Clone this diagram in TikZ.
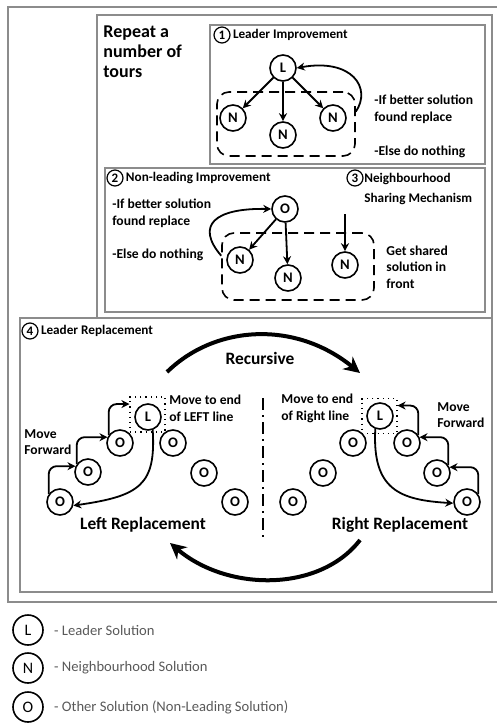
\documentclass[tikz,border=0pt]{standalone}
\usepackage{fontspec}
\setmainfont{Carlito}
\usetikzlibrary{arrows.meta,positioning,calc,shapes}
\tikzstyle{frame}=[draw=black!45, line width=1pt]
\tikzstyle{sol}=[circle,draw,line width=0.8pt,minimum size=13pt,inner sep=0pt,font=\bfseries\fontsize{7.3}{8}\selectfont]
\tikzstyle{legend sol}=[circle,draw,line width=0.8pt,minimum size=15pt,inner sep=0pt,font=\fontsize{8}{9}\selectfont]
\tikzstyle{step num}=[circle,draw,line width=0.6pt,minimum size=8pt,inner sep=0pt,font=\bfseries\fontsize{6.5}{7}\selectfont]
\tikzstyle{heading}=[inner sep=0pt,anchor=west,font=\bfseries\fontsize{6.6}{8}\selectfont]
\tikzstyle{note}=[inner sep=0pt,anchor=west,align=left,font=\bfseries\fontsize{6.8}{8.6}\selectfont]
\tikzstyle{big label}=[inner sep=0pt,font=\bfseries\fontsize{8.7}{10}\selectfont]
\tikzstyle{group}=[draw,dashed,dash pattern=on 5pt off 3pt,line width=0.8pt,rounded corners=6pt,inner sep=0pt]
\tikzstyle{select}=[draw,dotted,line width=0.6pt,minimum size=17.5pt,inner sep=0pt]
\tikzstyle{flow}=[->,line width=0.9pt]
\tikzstyle{big flow}=[-{Stealth[length=8pt,width=8pt]},line width=2pt]
\tikzstyle{legend text}=[inner sep=0pt,anchor=west,text=black!65,font=\fontsize{7.3}{8}\selectfont]

\begin{document}
\begin{tikzpicture}[x=0.5pt,y=-0.5pt,>={Stealth[length=4pt,width=4pt]}]
  \useasboundingbox (0,0) rectangle (497,724);

  % Frames
  \draw[frame] (8,7) rectangle (502,602);
  \draw[frame] (97,15) rectangle (492,318);
  \draw[frame] (210,25) rectangle (485,164);
  \draw[frame] (105,168) rectangle (485,312);
  \draw[frame] (20,318) rectangle (492,592);

  \node[note, font=\bfseries\fontsize{9}{10}\selectfont] (repeatText) at (103,52) {Repeat a\\number of\\tours};

  % Step 1: leader improvement

  \node[step num] (numOne) at (222,35) {1};
  \node[heading, right = 1pt of numOne] {Leader Improvement};

  \node[sol] (leaderOne) at (283,68) {L};
  \node[sol] (neighOneA) at (233,118) {N};
  \node[sol] (neighOneB) at (283,135) {N};
  \node[sol] (neighOneC) at (333,118) {N};
  \node[group, minimum width=69pt, minimum height=32pt] (groupOne) at (286,124) {};

  \draw[flow] (leaderOne) -- (neighOneA);
  \draw[flow] (leaderOne) -- (neighOneB);
  \draw[flow] (leaderOne) -- (neighOneC);
  \draw[flow] (groupOne.10) .. controls (372,88) and (352,58) .. (leaderOne.east);

  \node[note] (betterOne) at (374,109) {-If better solution\\found replace};
  \node[note] (elseOne) at (374,152) {-Else do nothing};

  % Step 2 and 3: non-leading improvement, sharing

  \node[step num] (numTwo) at (115,178) {2};
  \node[heading, right = 1pt of numTwo] {Non-leading Improvement};
  \node[step num] (numThree) at (355,178) {3};
  \node[heading, anchor=north west, align=left, font=\bfseries\fontsize{6.6}{10}\selectfont] at (364,173) {Neighbourhood\\Sharing Mechanism};

  \node[sol] (otherTwo) at (285,209) {O};
  \node[sol] (neighTwoA) at (240,260) {N};
  \node[sol] (neighTwoB) at (288,278) {N};
  \node[sol] (neighTwoC) at (345,265) {N};
  \node[group, minimum width=76pt, minimum height=33.5pt] (groupTwo) at (298,266.5) {};
  \coordinate (shared) at (345,214);

  \draw[flow] (otherTwo) -- (neighTwoA);
  \draw[flow] (otherTwo) -- (neighTwoB);
  \draw[flow] (shared) -- (neighTwoC);
  \draw[flow] (groupTwo.172) .. controls (195,225) and (215,208) .. (otherTwo.west);

  \node[note] (betterTwo) at (112,213) {-If better solution\\found replace};
  \node[note] (elseTwo) at (112,255) {-Else do nothing};
  \node[note, font=\bfseries\fontsize{6.8}{8.3}\selectfont] (getShared) at (386,267) {Get shared\\solution in\\front};

  % Step 4: leader replacement

  \node[step num] (numFour) at (30,331) {4};
  \node[heading, right = 1pt of numFour] {Leader Replacement};

  \node[big label] (recursive) at (260,358) {Recursive};
  \coordinate (recTopA) at (167,372);
  \coordinate (recTopB) at (360,373);
  \coordinate (recBotA) at (360,540);
  \coordinate (recBotB) at (170,543);
  \draw[big flow] (recTopA) .. controls (215,325) and (295,320) .. (recTopB);
  \draw[big flow] (recBotA) .. controls (320,592) and (228,592) .. (recBotB);

  \coordinate (splitTop) at (263,398);
  \coordinate (splitBot) at (263,538);
  \draw[line width=1.4pt, dash pattern=on 6pt off 2.5pt on 1pt off 2.5pt] (splitTop) -- (splitBot);

  % Left replacement
  \node[sol] (leaderL) at (148,417) {L};
  \node[select] (selectL) at (147.5,414.5) {};
  \node[sol] (otherLA) at (60,502) {O};
  \node[sol] (otherLB) at (88,472) {O};
  \node[sol] (otherLC) at (120,443) {O};
  \node[sol] (otherLD) at (173,443) {O};
  \node[sol] (otherLE) at (204,473) {O};
  \node[sol] (otherLF) at (235,502) {O};

  \draw[flow, rounded corners=4pt] (otherLA.145) |- (otherLB.155);
  \draw[flow, rounded corners=4pt] (otherLB.145) |- (otherLC.155);
  \draw[flow, rounded corners=4pt] (otherLC.145) |- (selectL.150);
  \draw[flow] (leaderL.290) .. controls (156,485) and (140,496) .. (otherLA.345);

  \node[note] (moveEndL) at (169,408) {Move to end\\of LEFT line};
  \node[note, font=\bfseries\fontsize{6.8}{8}\selectfont] (forwardL) at (24,442) {Move\\Forward};
  \node[big label] (leftRep) at (143,525) {Left Replacement};

  % Right replacement
  \node[sol] (leaderR) at (380,416) {L};
  \node[select] (selectR) at (379.5,416) {};
  \node[sol] (otherRA) at (467,502) {O};
  \node[sol] (otherRB) at (437,473) {O};
  \node[sol] (otherRC) at (407,443) {O};
  \node[sol] (otherRD) at (353,443) {O};
  \node[sol] (otherRE) at (323,473) {O};
  \node[sol] (otherRF) at (293,502) {O};

  \draw[flow, rounded corners=4pt] (otherRA.35) |- (otherRB.25);
  \draw[flow, rounded corners=4pt] (otherRB.35) |- (otherRC.25);
  \draw[flow, rounded corners=4pt] (otherRC.35) |- (selectR.30);
  \draw[flow] (leaderR.250) .. controls (372,490) and (400,500) .. (otherRA.185);

  \node[note] (moveEndR) at (281,408) {Move to end\\of Right line};
  \node[note, font=\bfseries\fontsize{6.8}{8}\selectfont] (forwardR) at (437,415) {Move\\Forward};
  \node[big label] (rightRep) at (400,525) {Right Replacement};

  % Legend

  \node[legend sol] (keyL) at (28,630) {L};
  \node[legend sol] (keyN) at (28,668) {N};
  \node[legend sol] (keyO) at (28,707) {O};
  \node[legend text, right = 5pt of keyL] {- Leader Solution};
  \node[legend text, right = 5pt of keyN] {- Neighbourhood Solution};
  \node[legend text, right = 5pt of keyO] {- Other Solution (Non-Leading Solution)};
\end{tikzpicture}
\end{document}
